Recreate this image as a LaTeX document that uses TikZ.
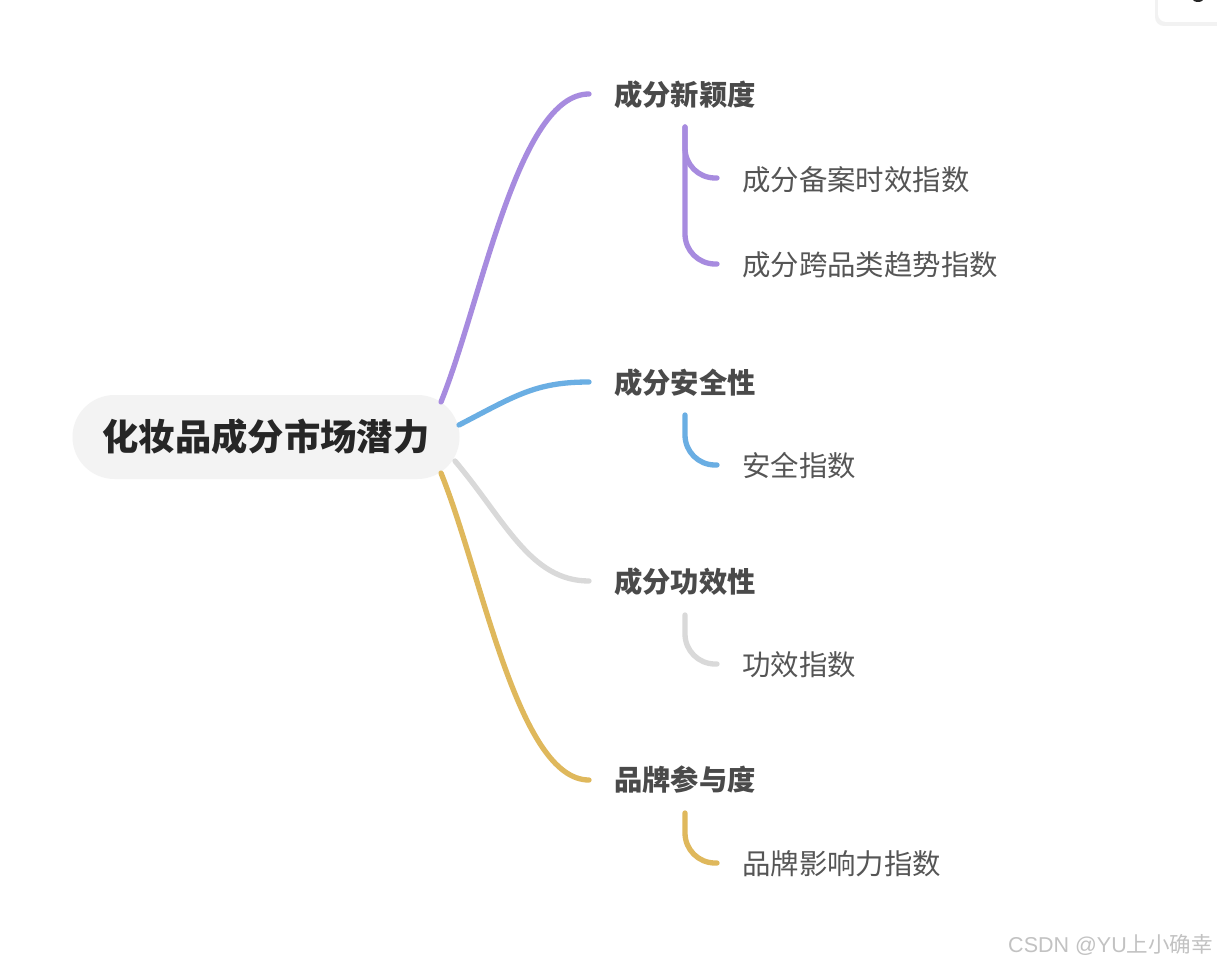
\documentclass[tikz,border=0pt]{standalone}
\usepackage{fontspec}
\setmainfont{Noto Sans CJK SC}
\newfontfamily\cjk{Noto Sans CJK SC}
\newfontfamily\latinsans{Liberation Sans}
\definecolor{cpurple}{HTML}{A78BDF}
\definecolor{cblue}{HTML}{6AAEE3}
\definecolor{cgray}{HTML}{D9D9D9}
\definecolor{cgold}{HTML}{DFB85C}
\definecolor{rootfill}{HTML}{F3F3F3}
\definecolor{roottext}{HTML}{262626}
\definecolor{branchtext}{HTML}{4A4A4A}
\definecolor{subtext}{HTML}{555555}
\begin{document}
\begin{tikzpicture}[x=1pt,y=-1pt,
  rootbox/.style={fill=rootfill, rounded corners=42pt, minimum width=387pt, minimum height=84pt, inner sep=0pt,
    text=roottext, font=\cjk\bfseries\fontsize{36.3}{40}\selectfont},
  branchlabel/.style={anchor=west, inner sep=0pt, text=branchtext, font=\cjk\bfseries\fontsize{28.3}{32}\selectfont},
  sublabel/.style={anchor=west, inner sep=0pt, text=subtext, font=\cjk\fontsize{28.4}{32}\selectfont},
  link/.style={line width=5.3pt, line cap=round},
  sublink/.style={line width=5.3pt, line cap=round, rounded corners=30pt}
]
\useasboundingbox (0,0) rectangle (1217,965);
\fill[white] (0,0) rectangle (1217,965);

% top-right partial UI card
\fill[black!5] (1155,-10) [rounded corners=9pt] -- (1155,26) -- (1230,26) [sharp corners] -- (1230,-10) -- cycle;
\fill[white] (1158,-10) [rounded corners=8pt] -- (1158,22) -- (1230,22) [sharp corners] -- (1230,-10) -- cycle;
\fill[black!85] (1198,-2) ellipse (6pt and 4pt);

% root
\node[rootbox] (root) at (266,437) {化妆品成分市场潜力};

% branches
\node[branchlabel] (b1) at (614,95) {成分新颖度};
\node[branchlabel] (b2) at (614,383) {成分安全性};
\node[branchlabel] (b3) at (614,582) {成分功效性};
\node[branchlabel] (b4) at (614,780) {品牌参与度};

% subs
\node[sublabel] (s11) at (742,180) {成分备案时效指数};
\node[sublabel] (s12) at (742,265) {成分跨品类趋势指数};
\node[sublabel] (s21) at (742,466) {安全指数};
\node[sublabel] (s31) at (742,665) {功效指数};
\node[sublabel] (s41) at (742,864) {品牌影响力指数};

% connector anchor points
\coordinate (r1) at (441,402);
\coordinate (r2) at (459,425);
\coordinate (r3) at (455,461);
\coordinate (r4) at (441,473);
\coordinate (e1) at (589,94);
\coordinate (e2) at (589,382);
\coordinate (e3) at (589,581);
\coordinate (e4) at (589,780);
\coordinate (d1) at (685,127);
\coordinate (d2) at (685,415);
\coordinate (d3) at (685,615);
\coordinate (d4) at (685,813);
\coordinate (t11) at (717,178);
\coordinate (t12) at (717,264);
\coordinate (t21) at (717,465);
\coordinate (t31) at (717,664);
\coordinate (t41) at (717,863);

% root to branches
\draw[link, cpurple] (r1) .. controls (482,300) and (518,94) .. (e1);
\draw[link, cblue] (r2) .. controls (515,396) and (535,382) .. (e2);
\draw[link, cgray] (r3) .. controls (505,520) and (530,581) .. (e3);
\draw[link, cgold] (r4) .. controls (482,574) and (518,780) .. (e4);

% branches to subs
\draw[sublink, cpurple] (d1) |- (t11);
\draw[sublink, cpurple] (d1) |- (t12);
\draw[sublink, cblue] (d2) |- (t21);
\draw[sublink, cgray] (d3) |- (t31);
\draw[sublink, cgold] (d4) |- (t41);

% watermark
\node[anchor=east, inner sep=0pt, text=black!24, font=\cjk\fontsize{21.5}{24}\selectfont] (wm) at (1213,945) {{\latinsans CSDN @YU}上小确幸};
\end{tikzpicture}
\end{document}
